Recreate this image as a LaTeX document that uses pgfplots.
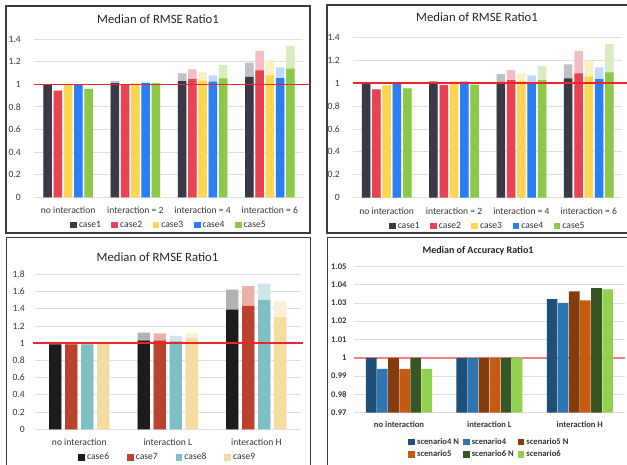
\documentclass[border=0pt]{standalone}
\usepackage{fontspec}
\setmainfont{Carlito}
\usepackage{pgfplots}
\pgfplotsset{compat=1.18}

% case colours (solid share and lighter upper share)
\definecolor{cA}{RGB}{58,58,70}    \definecolor{cAl}{RGB}{192,192,197}
\definecolor{cB}{RGB}{233,66,82}   \definecolor{cBl}{RGB}{246,188,195}
\definecolor{cC}{RGB}{250,214,82}  \definecolor{cCl}{RGB}{253,240,192}
\definecolor{cD}{RGB}{42,127,246}  \definecolor{cDl}{RGB}{192,216,251}
\definecolor{cE}{RGB}{140,201,72}  \definecolor{cEl}{RGB}{216,236,192}
\definecolor{dA}{RGB}{30,27,29}    \definecolor{dAl}{RGB}{178,178,178}
\definecolor{dB}{RGB}{186,66,46}   \definecolor{dBl}{RGB}{232,178,168}
\definecolor{dC}{RGB}{126,191,197} \definecolor{dCl}{RGB}{207,230,233}
\definecolor{dD}{RGB}{243,220,160} \definecolor{dDl}{RGB}{250,240,216}
% scenario colours
\definecolor{sA}{HTML}{1F4E79} \definecolor{sB}{HTML}{2E75B6}
\definecolor{sC}{HTML}{843C0C} \definecolor{sD}{HTML}{C55A11}
\definecolor{sE}{HTML}{375623} \definecolor{sF}{HTML}{92D050}
\definecolor{gridc}{RGB}{222,222,222}
\definecolor{refred}{RGB}{238,36,44}
\definecolor{softred}{RGB}{242,130,130}
\definecolor{framec}{RGB}{60,60,60}

\newcommand{\tickfont}{\fontsize{9.6}{11}\selectfont}
\newcommand{\smallbold}{\fontsize{8.6}{10}\selectfont\bfseries}

\pgfplotsset{
  panel/.style={
    scale only axis, ybar, clip=false,
    enlargelimits=false,
    axis line style={draw=none},
    major tick length=0pt,
    ymajorgrids, major grid style={draw=gridc, line width=0.8pt},
    tick label style={font=\tickfont, text=black!78},
    /pgf/number format/assume math mode=true,
    xticklabel style={anchor=center},
    yticklabel style={anchor=east, inner sep=0pt},
    legend style={draw=none, fill=none, font=\tickfont, text=black!80,
      anchor=center, at={(axis description cs:0.5,0)}},
    legend columns=-1,
    legend image code/.code={\fill[##1] (0pt,-3.3pt) rectangle (6.7pt,3.3pt);},
  },
  light/.style={draw=none, forget plot},
  solid/.style={draw=none},
  refline/.style={sharp plot, forget plot, mark=none, fill=none, draw=#1, line width=1.5pt},
}

\begin{document}
\begin{tikzpicture}
\useasboundingbox (0,0) rectangle (627pt,464pt);
\clip (0,0) rectangle (627pt,464pt);
\fill[white] (0,0) rectangle (627pt,464pt);

% panel frames
\draw[framec, line width=1.2pt] (6pt,231pt) rectangle (310pt,458pt);
\draw[framec, line width=1.2pt] (327pt,231pt) rectangle (640pt,459pt);
\draw[framec, line width=1.2pt] (6.5pt,-10pt) rectangle (310.5pt,226.5pt);
\draw[framec, line width=1.2pt] (327.5pt,-10pt) rectangle (640pt,226.5pt);

% titles
\node[font=\fontsize{12.7}{14}\selectfont, text=black!85] at (158pt,444.7pt) {Median of RMSE Ratio1};
\node[font=\fontsize{12.7}{14}\selectfont, text=black!85] at (477pt,447.3pt) {Median of RMSE Ratio1};
\node[font=\fontsize{12.7}{14}\selectfont, text=black!85] at (157.5pt,207pt) {Median of RMSE Ratio1};
\node[font=\fontsize{10}{12}\selectfont\bfseries, text=black!85] at (478pt,213pt) {Median of Accuracy Ratio1};

%% ---------- upper left ----------
\begin{axis}[panel,
  at={(34.5pt,266.7pt)}, anchor=south west, width=269pt, height=158.3pt,
  xmin=-0.5, xmax=3.5, ymin=0, ymax=1.4,
  ytick={0,0.2,0.4,0.6,0.8,1,1.2,1.4},
  xtick={0,1,2,3},
  xticklabels={no interaction, interaction = 2, interaction = 4, interaction = 6},
  xticklabel style={yshift=-13.4pt},
  yticklabel style={xshift=-13.5pt},
  legend style={yshift=-27.7pt, /tikz/every even column/.append style={column sep=8.5pt}},
  bar width=8.5pt]
\addplot[light, fill=cAl, bar shift=-20.6pt] coordinates {(0,1.0) (1,1.03) (2,1.096) (3,1.19)};
\addplot[light, fill=cBl, bar shift=-10.3pt] coordinates {(0,0.943) (1,0.997) (2,1.132) (3,1.296)};
\addplot[light, fill=cCl, bar shift=0pt]     coordinates {(0,0.993) (1,1.015) (2,1.105) (3,1.214)};
\addplot[light, fill=cDl, bar shift=10.3pt]  coordinates {(0,0.995) (1,1.02) (2,1.079) (3,1.149)};
\addplot[light, fill=cEl, bar shift=20.6pt]  coordinates {(0,0.958) (1,1.015) (2,1.17) (3,1.34)};
\addplot[solid, fill=cA, bar shift=-20.6pt] coordinates {(0,1.0) (1,1.01) (2,1.028) (3,1.064)};
\addplot[solid, fill=cB, bar shift=-10.3pt] coordinates {(0,0.943) (1,0.997) (2,1.046) (3,1.123)};
\addplot[solid, fill=cC, bar shift=0pt]     coordinates {(0,0.993) (1,1.005) (2,1.031) (3,1.079)};
\addplot[solid, fill=cD, bar shift=10.3pt]  coordinates {(0,0.995) (1,1.01) (2,1.022) (3,1.055)};
\addplot[solid, fill=cE, bar shift=20.6pt]  coordinates {(0,0.958) (1,1.008) (2,1.052) (3,1.137)};
\legend{case1, case2, case3, case4, case5}
\addplot[refline=refred, line width=1.3pt] coordinates {(-0.5,1) (3.6,1)};
\end{axis}

%% ---------- upper right ----------
\begin{axis}[panel,
  at={(353pt,266.3pt)}, anchor=south west, width=269.5pt, height=160.4pt,
  xmin=-0.5, xmax=3.5, ymin=0, ymax=1.4,
  ytick={0,0.2,0.4,0.6,0.8,1,1.2,1.4},
  xtick={0,1,2,3},
  xticklabels={no interaction, interaction = 2, interaction = 4, interaction = 6},
  xticklabel style={yshift=-13.3pt},
  yticklabel style={xshift=-13pt},
  legend style={yshift=-28.3pt, /tikz/every even column/.append style={column sep=8.5pt}},
  bar width=8.5pt]
\addplot[light, fill=cAl, bar shift=-20.6pt] coordinates {(0,1.0) (1,1.018) (2,1.079) (3,1.164)};
\addplot[light, fill=cBl, bar shift=-10.3pt] coordinates {(0,0.946) (1,0.983) (2,1.114) (3,1.28)};
\addplot[light, fill=cCl, bar shift=0pt]     coordinates {(0,0.981) (1,1.018) (2,1.085) (3,1.195)};
\addplot[light, fill=cDl, bar shift=10.3pt]  coordinates {(0,0.992) (1,1.018) (2,1.068) (3,1.138)};
\addplot[light, fill=cEl, bar shift=20.6pt]  coordinates {(0,0.955) (1,1.005) (2,1.149) (3,1.341)};
\addplot[solid, fill=cA, bar shift=-20.6pt] coordinates {(0,1.0) (1,1.01) (2,1.012) (3,1.042)};
\addplot[solid, fill=cB, bar shift=-10.3pt] coordinates {(0,0.946) (1,0.983) (2,1.027) (3,1.085)};
\addplot[solid, fill=cC, bar shift=0pt]     coordinates {(0,0.981) (1,1.01) (2,1.018) (3,1.056)};
\addplot[solid, fill=cD, bar shift=10.3pt]  coordinates {(0,0.992) (1,1.01) (2,1.007) (3,1.036)};
\addplot[solid, fill=cE, bar shift=20.6pt]  coordinates {(0,0.955) (1,0.983) (2,1.027) (3,1.094)};
\legend{case1, case2, case3, case4, case5}
\addplot[refline=refred, line width=1.3pt] coordinates {(-0.5,1) (3.57,1)};
\end{axis}

%% ---------- lower left ----------
\begin{axis}[panel,
  at={(35pt,34.7pt)}, anchor=south west, width=265.6pt, height=155pt,
  xmin=-0.5, xmax=2.5, ymin=0, ymax=1.8,
  ytick={0,0.2,0.4,0.6,0.8,1,1.2,1.4,1.6,1.8},
  xtick={0,1,2},
  xticklabels={no interaction, interaction L, interaction H},
  xticklabel style={yshift=-13.4pt},
  yticklabel style={xshift=-10pt},
  legend style={yshift=-28pt, /tikz/every even column/.append style={column sep=16pt}},
  bar width=12.3pt]
\addplot[light, fill=dAl, bar shift=-24pt] coordinates {(0,0.985) (1,1.122) (2,1.621)};
\addplot[light, fill=dBl, bar shift=-8pt]  coordinates {(0,0.985) (1,1.115) (2,1.664)};
\addplot[light, fill=dCl, bar shift=8pt]   coordinates {(0,0.985) (1,1.084) (2,1.691)};
\addplot[light, fill=dDl, bar shift=24pt]  coordinates {(0,0.99) (1,1.12) (2,1.487)};
\addplot[solid, fill=dA, bar shift=-24pt] coordinates {(0,0.985) (1,1.029) (2,1.389)};
\addplot[solid, fill=dB, bar shift=-8pt]  coordinates {(0,0.985) (1,1.03) (2,1.432)};
\addplot[solid, fill=dC, bar shift=8pt]   coordinates {(0,0.985) (1,1.02) (2,1.502)};
\addplot[solid, fill=dD, bar shift=24pt]  coordinates {(0,0.99) (1,1.052) (2,1.304)};
\legend{case6, case7, case8, case9}
\addplot[refline=refred] coordinates {(-0.52,1) (2.53,1)};
\end{axis}

%% ---------- lower right ----------
\begin{axis}[panel, clip=true,
  at={(353.8pt,51.3pt)}, anchor=south west, width=271.2pt, height=146.4pt,
  xmin=-0.5, xmax=2.5, ymin=0.97, ymax=1.05,
  ytick={0.97,0.98,0.99,1,1.01,1.02,1.03,1.04,1.05},
  yticklabel style={/pgf/number format/fixed, /pgf/number format/precision=2},
  xtick={0,1,2},
  xticklabels={no interaction, interaction L, interaction H},
  tick label style={font=\smallbold},
  xticklabel style={yshift=-12pt},
  yticklabel style={xshift=-7pt},
  legend columns=3, legend cell align=left,
  legend style={font=\smallbold, yshift=-35.6pt,
    /tikz/every even column/.append style={column sep=2pt},
    /tikz/every odd column/.append style={column sep=0pt},
    row sep=1pt},
  bar width=10.6pt]
\addplot[refline=softred] coordinates {(-0.5,1) (2.5,1)};
\addplot[solid, fill=sA, bar shift=-27.75pt] coordinates {(0,1.0) (1,1.0) (2,1.032)};
\addplot[solid, fill=sB, bar shift=-16.65pt] coordinates {(0,0.994) (1,1.0) (2,1.030)};
\addplot[solid, fill=sC, bar shift=-5.55pt]  coordinates {(0,1.0) (1,1.0) (2,1.0363)};
\addplot[solid, fill=sD, bar shift=5.55pt]   coordinates {(0,0.994) (1,1.0) (2,1.0314)};
\addplot[solid, fill=sE, bar shift=16.65pt]  coordinates {(0,1.0) (1,1.0) (2,1.0381)};
\addplot[solid, fill=sF, bar shift=27.75pt]  coordinates {(0,0.994) (1,1.0) (2,1.0374)};
\legend{scenario4 N, scenario4, scenario5 N, scenario5, scenario6 N, scenario6}
\end{axis}
\end{tikzpicture}
\end{document}
